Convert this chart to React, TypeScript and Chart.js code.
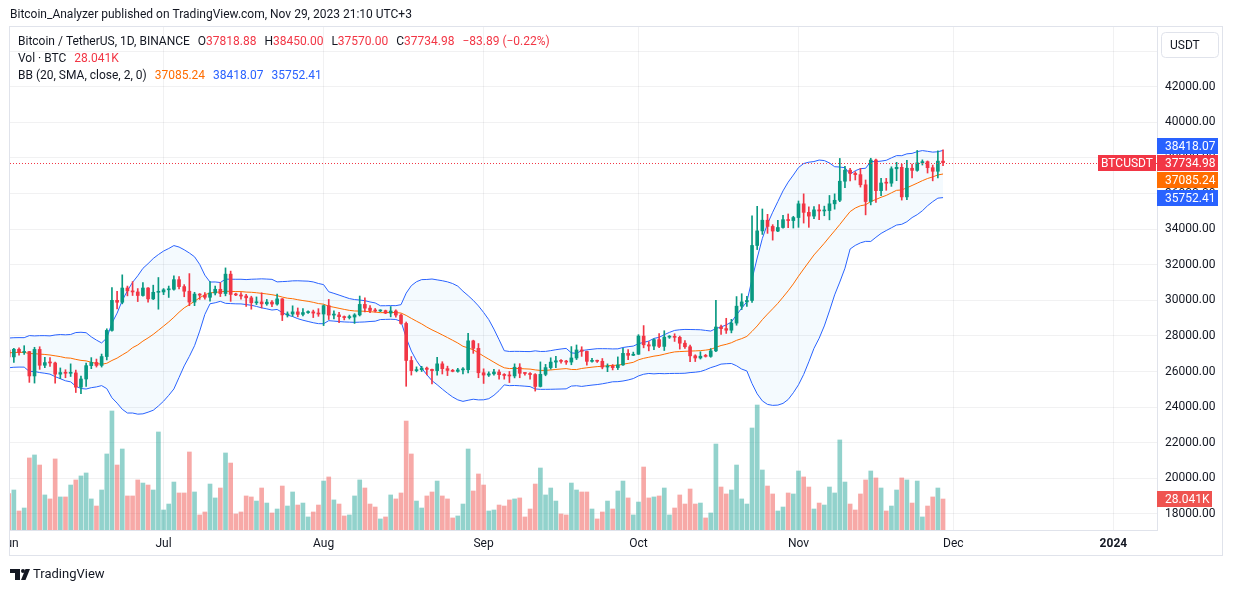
import React, { useEffect, useRef } from 'react';
import { Chart, registerables } from 'chart.js';

Chart.register(...registerables);

// ---------------- DATA (BTC/USDT, Binance, 1D, 2023-06-01 .. 2023-11-29) ----------------
const START_DATE = '2023-06-01';

// closes 2023-05-13 .. 2023-05-31 (needed to seed the 20-day Bollinger Bands)
const priorCloses = [26780, 26930, 27170, 27030, 27400, 26830, 26890, 27110, 26750, 26850, 27220, 26330, 26480, 26720, 26870, 28080, 27740, 27700, 27210];

const closes = [
  // Jun
  26820, 27250, 27070, 27120, 25750, 27240, 26350, 26500, 26480, 25850, 25940, 25900, 25920, 25120, 25580, 26330, 26510, 26340, 26840, 28310, 30000, 29890, 30690, 30530, 30470, 30270, 30690, 30080, 30450, 30470,
  // Jul
  30590, 30620, 31160, 30770, 30510, 29900, 30350, 30290, 30170, 30410, 30620, 30380, 31470, 30330, 30300, 30240, 30140, 29860, 29910, 29800, 29900, 29790, 30080, 29180, 29230, 29350, 29210, 29310, 29350, 29280, 29230,
  // Aug
  29700, 29170, 29180, 29080, 29030, 29060, 29180, 29770, 29560, 29430, 29400, 29420, 29280, 29400, 29170, 28700, 26620, 26050, 26100, 26190, 26120, 26050, 26430, 26160, 26060, 26010, 26090, 26100, 27720, 27300, 25930,
  // Sep
  25800, 25870, 25970, 25820, 25780, 25750, 26240, 25900, 25890, 25830, 25160, 25840, 26220, 26530, 26600, 26570, 26530, 26760, 27210, 27130, 26570, 26580, 26575, 26250, 26300, 26220, 26370, 27020, 26910, 26970,
  // Oct
  27990, 27500, 27430, 27790, 27410, 27930, 27950, 27920, 27590, 27390, 26880, 26760, 26860, 26850, 27160, 28500, 28410, 28320, 28720, 29670, 29910, 29990, 33080, 33900, 34500, 34150, 33890, 34090, 34530, 34480, 34650,
  // Nov
  35420, 34940, 34730, 35080, 35020, 35040, 35420, 35620, 36690, 37310, 37130, 37060, 36490, 35550, 37880, 36160, 36590, 36580, 37390, 37470, 35810, 37420, 37300, 37720, 37790, 37450, 37250, 37818.88, 37734.98,
];

const opens = [
  27210, 26820, 27250, 27070, 27120, 25750, 27240, 26350, 26500, 26480, 25850, 25940, 25900, 25920, 25120, 25580, 26330, 26510, 26340, 26840, 28310, 30000, 29890, 30690, 30530, 30470, 30270, 30690, 30080, 30450,
  30470, 30590, 30620, 31160, 30770, 30510, 29900, 30350, 30290, 30170, 30410, 30620, 30380, 31470, 30330, 30300, 30240, 30140, 29860, 29910, 29800, 29900, 29790, 30080, 29180, 29230, 29350, 29210, 29310, 29350, 29280,
  29230, 29700, 29170, 29180, 29080, 29030, 29060, 29180, 29770, 29560, 29430, 29400, 29420, 29280, 29400, 29170, 28700, 26620, 26050, 26100, 26190, 26120, 26050, 26430, 26160, 26060, 26010, 26090, 26100, 27720, 27300,
  25930, 25800, 25870, 25970, 25820, 25780, 25750, 26240, 25900, 25890, 25830, 25160, 25840, 26220, 26530, 26600, 26570, 26530, 26760, 27210, 27130, 26570, 26580, 26575, 26250, 26300, 26220, 26370, 27020, 26910,
  26970, 27990, 27500, 27430, 27790, 27410, 27930, 27950, 27920, 27590, 27390, 26880, 26760, 26860, 26850, 27160, 28500, 28410, 28320, 28720, 29670, 29910, 29990, 33080, 33900, 34500, 34150, 33890, 34090, 34530, 34480,
  34650, 35420, 34940, 34730, 35080, 35020, 35040, 35420, 35620, 36690, 37310, 37130, 37060, 36490, 35550, 37880, 36160, 36590, 36580, 37390, 37470, 35810, 37420, 37300, 37720, 37790, 37450, 37250, 37818.88,
];

const highs = [
  27350, 27300, 27330, 27450, 27130, 27360, 27390, 26800, 26780, 26530, 26200, 26100, 26430, 26080, 25750, 26480, 26780, 26700, 26980, 28400, 30720, 30500, 31430, 30800, 31050, 30660, 31000, 30710, 30850, 31280,
  30660, 30800, 31380, 31330, 30880, 31500, 30450, 30380, 30440, 31050, 30800, 30990, 31820, 31640, 30400, 30440, 30340, 30230, 30190, 30420, 30050, 29990, 30350, 30100, 29350, 29690, 29570, 29530, 29410, 29450, 29530,
  29740, 30050, 29410, 29320, 29120, 29170, 29250, 30240, 30140, 29700, 29540, 29470, 29450, 29650, 29470, 29230, 28780, 26840, 26260, 26290, 26250, 26140, 26800, 26550, 26300, 26120, 26180, 26220, 28140, 27760, 27570,
  26150, 25980, 26120, 26100, 25880, 26000, 26430, 26440, 25940, 25940, 25880, 26540, 26400, 26770, 26850, 26670, 26630, 27400, 27490, 27390, 27150, 26740, 26640, 26730, 26430, 26390, 26820, 27300, 27230, 27090,
  28070, 28580, 27680, 27830, 28130, 28290, 28020, 28120, 27990, 27740, 27480, 26940, 27110, 26960, 27290, 30000, 28610, 28990, 28930, 30210, 30370, 30230, 34740, 35280, 35130, 34830, 34250, 34490, 34770, 34850, 34720,
  35580, 35980, 35250, 35260, 35380, 35290, 35890, 35980, 37970, 37530, 37410, 37230, 37410, 36760, 37980, 37930, 36850, 36850, 37500, 37750, 37650, 37860, 37650, 38420, 37890, 37830, 37600, 38400, 38450,
];

const lows = [
  26600, 26510, 26920, 26960, 25390, 25350, 26120, 26210, 26280, 25350, 25600, 25650, 25720, 24820, 24750, 25160, 26160, 26250, 26250, 26650, 28260, 29520, 29800, 30250, 30270, 29930, 30230, 29900, 30040, 29500,
  30320, 30160, 30570, 30640, 30200, 29700, 29700, 30050, 30070, 29950, 30300, 30210, 30250, 29940, 30260, 30070, 29660, 29500, 29760, 29570, 29720, 29640, 29730, 28860, 29060, 29100, 29070, 29120, 29260, 29030, 29100,
  28580, 28920, 28960, 28750, 28900, 28950, 28700, 29120, 29350, 29310, 29340, 29360, 29250, 29070, 29050, 28660, 25170, 25800, 25980, 26000, 25810, 25300, 25800, 25860, 25770, 25980, 25960, 25860, 25920, 27020, 25650,
  25330, 25720, 25800, 25570, 25570, 25380, 25640, 25650, 25800, 25570, 24900, 25130, 25760, 26130, 26220, 26470, 26400, 26380, 26670, 26850, 26350, 26520, 26510, 26150, 25990, 26090, 26110, 26340, 26670, 26890,
  26960, 27330, 27160, 27220, 27340, 27180, 27860, 27690, 27260, 27300, 26550, 26560, 26700, 26810, 26800, 27110, 28080, 28140, 28170, 28600, 29480, 29660, 29880, 32850, 33700, 33760, 33380, 33860, 34050, 34080, 34060,
  34100, 34340, 34100, 34580, 34530, 34750, 34520, 35120, 35540, 36330, 36710, 36760, 36360, 34800, 35360, 35500, 35880, 36180, 36400, 36720, 35630, 35650, 36870, 37250, 37600, 37150, 36710, 36880, 37570,
];

// volume in thousands of BTC
const volumes = [
  33, 36.2, 17.2, 19.9, 65.2, 67.9, 58.8, 31.7, 28.1, 64.3, 29.9, 29.9, 40.7, 45.3, 48.9, 51.6, 28.1, 21.7, 36.2, 68.8, 107.7, 58.8, 73.3, 30.8, 30.8, 45.3, 42.5, 40.7, 36.2, 88.7,
  18.1, 23.5, 43.4, 33.5, 33.5, 70.6, 34.4, 13.6, 16.3, 41.6, 29.0, 38.0, 69.7, 60.6, 14.5, 16.3, 30.8, 29.9, 26.2, 38.0, 24.4, 15.4, 19.0, 39.8, 21.7, 34.4, 22.6, 24.4, 11.8, 16.3, 22.6,
  44.3, 48.0, 27.2, 23.5, 12.7, 13.6, 30.8, 45.3, 38.0, 23.5, 20.8, 10.0, 11.8, 31.7, 28.1, 33.5, 98.6, 68.8, 26.2, 19.9, 30.8, 34.4, 44.3, 30.8, 28.1, 10.9, 12.7, 23.5, 73.3, 35.3, 50.7,
  40.7, 17.2, 18.1, 22.6, 21.7, 27.2, 28.1, 29.0, 11.8, 19.0, 41.6, 56.1, 31.7, 38.0, 26.2, 14.5, 13.6, 42.5, 36.2, 34.4, 34.4, 19.0, 10.0, 16.3, 26.2, 19.0, 35.3, 44.3, 29.0, 13.6,
  25.3, 57.0, 29.0, 29.9, 30.8, 38.0, 13.6, 19.9, 31.7, 23.5, 37.1, 23.5, 24.4, 10.9, 15.4, 77.8, 38.9, 32.6, 36.2, 58.8, 28.1, 23.5, 92.3, 113.1, 54.3, 39.8, 32.6, 17.2, 20.8, 33.5, 32.6,
  53.4, 48.0, 38.9, 19.0, 24.4, 22.6, 38.9, 33.5, 81.5, 43.4, 23.5, 18.1, 32.6, 45.3, 53.4, 47.1, 38.0, 17.2, 21.7, 36.2, 47.1, 45.3, 24.4, 44.3, 11.8, 21.7, 29.9, 38.0, 28.041,
];

// last values as printed in the legend / on the price scale
const lastChange = -83.89;
const lastChangePct = -0.22;
const bbLastBasis = 37085.24;
const bbLastUpper = 38418.07;
const bbLastLower = 35752.41;

const timeTickDates = ['2023-06-01', '2023-07-01', '2023-08-01', '2023-09-01', '2023-10-01', '2023-11-01', '2023-12-01', '2024-01-01'];
const timeTickLabels = ['Jun', 'Jul', 'Aug', 'Sep', 'Oct', 'Nov', 'Dec', '2024'];
const priceTicks = [18000, 20000, 22000, 24000, 26000, 28000, 30000, 32000, 34000, 36000, 38000, 40000, 42000, 44000];

const headerText = 'Bitcoin_Analyzer published on TradingView.com, Nov 29, 2023 21:10 UTC+3';
const symbolTitle = 'Bitcoin / TetherUS, 1D, BINANCE';
const symbolTag = 'BTCUSDT';
const currency = 'USDT';
const volTitle = 'Vol · BTC';
const bbTitle = 'BB (20, SMA, close, 2, 0)';

// ---------------- STYLE ----------------
const FONT = 'Roboto, "Noto Sans", Arial, sans-serif';
const TEXT = '#131722';
const UP = '#089981';
const DOWN = '#f23645';
const VOL_UP = 'rgba(38,166,154,0.5)';
const VOL_DOWN = 'rgba(239,83,80,0.5)';
const BB_BLUE = '#2962ff';
const BB_ORANGE = '#ff6d00';
const GRID = 'rgba(42,46,57,0.065)';
const BORDER = '#e0e3eb';

const X_MIN = 0.252;
const X_MAX = 222.45;
const Y_MIN = 17096;
const Y_MAX = 45354;
const VOL_MAX = 455.2;

function dayIndex(s: string): number {
  return Math.round((Date.parse(s + 'T00:00:00Z') - Date.parse(START_DATE + 'T00:00:00Z')) / 86400000);
}

// Bollinger Bands (20, SMA, close, 2) derived from the closes
function bollinger() {
  const all = [...priorCloses, ...closes];
  const off = priorCloses.length;
  const basis: number[] = [];
  const upper: number[] = [];
  const lower: number[] = [];
  for (let i = 0; i < closes.length; i++) {
    const w = all.slice(i + off - 19, i + off + 1);
    const m = w.reduce((s, v) => s + v, 0) / w.length;
    const sd = Math.sqrt(w.reduce((s, v) => s + (v - m) * (v - m), 0) / w.length);
    basis.push(m);
    upper.push(m + 2 * sd);
    lower.push(m - 2 * sd);
  }
  return { basis, upper, lower };
}

const fmt2 = (v: number) => v.toFixed(2);
const signed = (v: number) => `${v < 0 ? '−' : '+'}${Math.abs(v).toFixed(2)}`;

export default function App() {
  const ref = useRef<HTMLCanvasElement | null>(null);

  useEffect(() => {
    if (!ref.current) return;
    const bb = bollinger();
    const n = closes.length;
    const isUp = (i: number) => closes[i] >= opens[i];
    const tickDays = timeTickDates.map(dayIndex);
    const last = n - 1;

    const overlay = {
      id: 'tvOverlay',
      afterDatasetsDraw(chart: any) {
        const { ctx, chartArea: a, scales } = chart;
        const py = Math.round(scales.y.getPixelForValue(closes[last])) + 0.5;
        ctx.save();
        ctx.beginPath();
        ctx.rect(a.left, a.top, a.right - a.left, a.bottom - a.top);
        ctx.clip();
        ctx.strokeStyle = isUp(last) ? UP : DOWN;
        ctx.lineWidth = 1;
        ctx.setLineDash([1, 2]);
        ctx.beginPath();
        ctx.moveTo(a.left, py);
        ctx.lineTo(a.right, py);
        ctx.stroke();
        ctx.restore();
      },
      afterDraw(chart: any) {
        const { ctx, chartArea: a, scales } = chart;
        const ys = scales.y;
        const xs = scales.x;
        ctx.save();
        // hide the part of the first time label that sits outside the pane
        ctx.fillStyle = '#ffffff';
        ctx.fillRect(0, a.bottom + 1, a.left, xs.bottom - a.bottom);

        // outer frame
        ctx.strokeStyle = BORDER;
        ctx.lineWidth = 1;
        ctx.strokeRect(a.left - 0.5, a.top - 0.5, ys.right - a.left, xs.bottom - a.top);

        // header
        ctx.textBaseline = 'middle';
        ctx.textAlign = 'left';
        ctx.fillStyle = TEXT;
        ctx.font = `12px ${FONT}`;
        ctx.fillText(headerText, 10, 15);

        // legend
        const lx = a.left + 8;
        ctx.font = `12px ${FONT}`;
        const seg = (parts: [string, string][], x: number, y: number, gap: number) => {
          let cx = x;
          parts.forEach(([t, c]) => {
            ctx.fillStyle = c;
            ctx.fillText(t, cx, y);
            cx += ctx.measureText(t).width + (t.length <= 1 ? 0 : gap);
          });
        };
        const valColor = isUp(last) ? UP : DOWN;
        seg([
          [symbolTitle, TEXT],
          ['O', TEXT], [fmt2(opens[last]), valColor],
          ['H', TEXT], [fmt2(highs[last]), valColor],
          ['L', TEXT], [fmt2(lows[last]), valColor],
          ['C', TEXT], [fmt2(closes[last]), valColor],
          [`${signed(lastChange)} (${signed(lastChangePct)}%)`, valColor],
        ], lx, 42, 8);
        seg([[volTitle, TEXT], [volumes[last].toFixed(3) + 'K', DOWN]], lx, 59, 8);
        seg([
          [bbTitle, TEXT],
          [fmt2(bbLastBasis), BB_ORANGE],
          [fmt2(bbLastUpper), BB_BLUE],
          [fmt2(bbLastLower), BB_BLUE],
        ], lx, 76, 8);

        // currency button
        ctx.strokeStyle = BORDER;
        ctx.beginPath();
        (ctx as any).roundRect(ys.left + 4.5, a.top + 5.5, 57, 25, 4);
        ctx.stroke();
        ctx.fillStyle = TEXT;
        ctx.font = `12px ${FONT}`;
        ctx.fillText(currency, ys.left + 13, a.top + 18.5);

        // axis value labels
        const boxes = [
          { v: bbLastUpper, y: ys.getPixelForValue(bb.upper[last]), color: BB_BLUE },
          { v: closes[last], y: ys.getPixelForValue(closes[last]), color: DOWN },
          { v: bbLastBasis, y: ys.getPixelForValue(bb.basis[last]), color: BB_ORANGE },
          { v: bbLastLower, y: ys.getPixelForValue(bb.lower[last]), color: BB_BLUE },
        ];
        const mainIdx = 1;
        const H = 17;
        for (let i = mainIdx - 1; i >= 0; i--) boxes[i].y = Math.min(boxes[i].y, boxes[i + 1].y - H);
        for (let i = mainIdx + 1; i < boxes.length; i++) boxes[i].y = Math.max(boxes[i].y, boxes[i - 1].y + H);
        const drawBox = (x: number, y: number, w: number, bg: string, txt: string, center = false) => {
          const top = Math.round(y - 8);
          ctx.fillStyle = bg;
          ctx.fillRect(x, top, w, 16);
          ctx.fillStyle = '#ffffff';
          ctx.font = `12px ${FONT}`;
          if (center) {
            ctx.textAlign = 'center';
            ctx.fillText(txt, x + w / 2, top + 8.5);
            ctx.textAlign = 'left';
          } else {
            ctx.fillText(txt, x + 8, top + 8.5);
          }
        };
        boxes.forEach((b) => drawBox(ys.left, b.y, 61, b.color, fmt2(b.v)));
        drawBox(a.right - 59, boxes[mainIdx].y, 58, DOWN, symbolTag, true);
        const vy = scales.yv.getPixelForValue(volumes[last]);
        drawBox(ys.left, vy, 55, '#ef5350', volumes[last].toFixed(3) + 'K');

        // TradingView logo
        ctx.fillStyle = TEXT;
        ctx.fillRect(10, 569, 10, 4);
        ctx.fillRect(15, 569, 5, 11);
        ctx.beginPath();
        ctx.arc(23, 571, 2, 0, Math.PI * 2);
        ctx.fill();
        ctx.beginPath();
        ctx.moveTo(25.5, 569);
        ctx.lineTo(30, 569);
        ctx.lineTo(25.5, 580);
        ctx.lineTo(21, 580);
        ctx.closePath();
        ctx.fill();
        ctx.font = `13px ${FONT}`;
        ctx.fillText('TradingView', 33, 575);
        ctx.restore();
      },
    };

    const chart = new Chart(ref.current, {
      type: 'bar',
      data: {
        datasets: [
          {
            type: 'bar',
            label: 'Volume',
            yAxisID: 'yv',
            data: volumes.map((v, i) => ({ x: i, y: v })),
            backgroundColor: volumes.map((_, i) => (isUp(i) ? VOL_UP : VOL_DOWN)),
            barThickness: 4,
            grouped: false,
            order: 10,
          } as any,
          {
            type: 'line',
            label: 'BB upper',
            data: bb.upper.map((v, i) => ({ x: i, y: v })),
            borderColor: BB_BLUE,
            borderWidth: 1,
            pointRadius: 0,
            tension: 0,
            fill: '+2',
            backgroundColor: 'rgba(33,150,243,0.05)',
            order: 6,
          } as any,
          {
            type: 'line',
            label: 'BB basis',
            data: bb.basis.map((v, i) => ({ x: i, y: v })),
            borderColor: BB_ORANGE,
            borderWidth: 1,
            pointRadius: 0,
            tension: 0,
            fill: false,
            order: 5,
          } as any,
          {
            type: 'line',
            label: 'BB lower',
            data: bb.lower.map((v, i) => ({ x: i, y: v })),
            borderColor: BB_BLUE,
            borderWidth: 1,
            pointRadius: 0,
            tension: 0,
            fill: false,
            order: 6,
          } as any,
          {
            type: 'bar',
            label: 'Wicks',
            data: highs.map((h, i) => ({ x: i, y: [lows[i], h] })),
            backgroundColor: closes.map((_, i) => (isUp(i) ? UP : DOWN)),
            barThickness: 1,
            grouped: false,
            order: 2,
          } as any,
          {
            type: 'bar',
            label: 'Bodies',
            data: opens.map((o, i) => ({ x: i, y: [o, closes[i]] })),
            backgroundColor: closes.map((_, i) => (isUp(i) ? UP : DOWN)),
            barThickness: 3,
            minBarLength: 1,
            grouped: false,
            order: 1,
          } as any,
        ],
      },
      options: {
        responsive: false,
        animation: false,
        devicePixelRatio: 1,
        layout: { padding: { left: 10, top: 27, right: 10, bottom: 36 } },
        plugins: { legend: { display: false }, tooltip: { enabled: false } },
        scales: {
          x: {
            type: 'linear',
            min: X_MIN,
            max: X_MAX,
            offset: false,
            grid: {
              offset: false,
              drawTicks: false,
              color: (ctx: any) => (ctx.tick && ctx.tick.value < X_MIN ? 'rgba(0,0,0,0)' : GRID),
            },
            border: { display: true, color: BORDER },
            ticks: {
              padding: 7,
              color: TEXT,
              maxRotation: 0,
              autoSkip: false,
              font: (ctx: any) => ({
                family: FONT,
                size: 12,
                weight: ctx.tick && timeTickLabels[tickDays.indexOf(ctx.tick.value)] === '2024' ? 'bold' : 'normal',
              }),
              callback: (v: any) => {
                const k = tickDays.indexOf(Number(v));
                return k >= 0 ? timeTickLabels[k] : '';
              },
            },
            afterBuildTicks: (s: any) => {
              s.ticks = tickDays.map((d) => ({ value: d }));
            },
            afterFit: (s: any) => {
              s.height = 26;
              s.paddingLeft = 0;
              s.paddingRight = 0;
            },
          } as any,
          y: {
            type: 'linear',
            position: 'right',
            min: Y_MIN,
            max: Y_MAX,
            beginAtZero: false,
            grid: { drawTicks: false, color: GRID },
            border: { display: true, color: BORDER },
            ticks: {
              padding: 8,
              color: TEXT,
              font: { family: FONT, size: 12 },
              callback: (v: any) => (Number(v) === 44000 ? '' : Number(v).toFixed(2)),
            },
            afterBuildTicks: (s: any) => {
              s.ticks = priceTicks.map((v) => ({ value: v }));
            },
            afterFit: (s: any) => {
              s.width = 66;
              s.paddingTop = 0;
              s.paddingBottom = 0;
            },
          } as any,
          yv: {
            type: 'linear',
            display: false,
            min: 0,
            max: VOL_MAX,
            beginAtZero: true,
          },
        },
      },
      plugins: [overlay],
    } as any);

    return () => chart.destroy();
  }, []);

  return (
    <div style={{ position: 'fixed', left: 0, top: 0, width: 1233, height: 592, background: '#ffffff' }}>
      <canvas ref={ref} width={1233} height={592} style={{ width: 1233, height: 592, display: 'block' }} />
    </div>
  );
}
